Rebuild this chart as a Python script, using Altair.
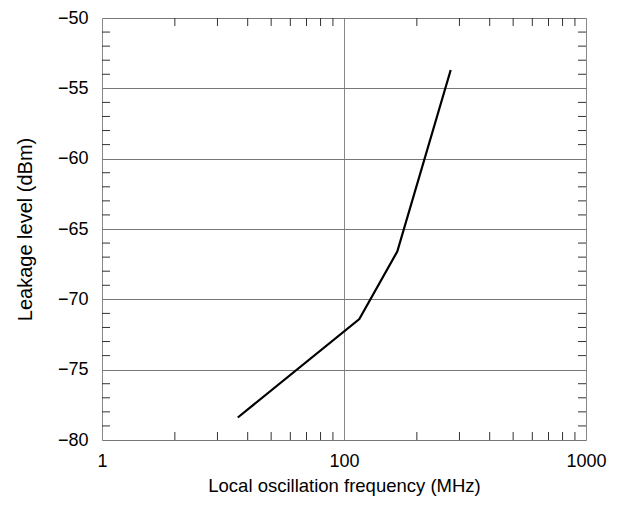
import altair as alt
import pandas as pd

# Data
freq = [36.4, 115.7, 166.0, 276.0]
level = [-78.4, -71.4, -66.6, -53.7]

x_ticks = [10, 100, 1000]
x_tick_labels = ["1", "100", "1000"]
y_ticks = [-80, -75, -70, -65, -60, -55, -50]
x_minor = [20, 30, 40, 50, 60, 70, 80, 90, 200, 300, 400, 500, 600, 700, 800, 900]
y_minor = [v for v in range(-79, -50) if v % 5 != 0]

W, H = 484, 422
FONT = "Liberation Sans"
LFS = 18

line_df = pd.DataFrame({"f": freq, "lvl": level})
xm_df = pd.DataFrame({"v": x_minor})
ym_df = pd.DataFrame({"v": y_minor})

xscale = alt.Scale(type="log", domain=[10, 1000], nice=False)
yscale = alt.Scale(domain=[-80, -50], nice=False, zero=False)

label_map = "{" + ",".join(f"'{v}':'{l}'" for v, l in zip(x_ticks, x_tick_labels)) + "}"

line = alt.Chart(line_df).mark_line(color="black", strokeWidth=2.2).encode(
    x=alt.X("f:Q", scale=xscale,
            axis=alt.Axis(values=x_ticks, labelExpr=f"{label_map}[datum.value + '']",
                          title="Local oscillation frequency (MHz)",
                          grid=True, gridColor="#888", gridWidth=1,
                          ticks=False, domain=False, labelPadding=12,
                          labelFlush=False,
                          labelFontSize=LFS, titleFontSize=18.5,
                          titleY=45, titleBaseline="middle",
                          labelFont=FONT, titleFont=FONT, labelColor="black",
                          titleColor="black", titleFontWeight="normal")),
    y=alt.Y("lvl:Q", scale=yscale,
            axis=alt.Axis(values=y_ticks, title="Leakage level (dBm)",
                          grid=True, gridColor="#777", gridWidth=1,
                          ticks=False, domain=False, labelPadding=14,
                          labelFlush=False,
                          labelFontSize=LFS, titleFontSize=20,
                          labelFont=FONT, titleFont=FONT, labelColor="black",
                          titleColor="black", titleFontWeight="normal",
                          titleX=-77, titleY=H / 2, titleBaseline="middle",
                          titleAngle=-90)),
)

tick_color = "#333"
xm_top = alt.Chart(xm_df).mark_rule(color=tick_color, strokeWidth=1).encode(
    x=alt.X("v:Q", scale=xscale), y=alt.value(0), y2=alt.value(8))
xm_bot = alt.Chart(xm_df).mark_rule(color=tick_color, strokeWidth=1).encode(
    x=alt.X("v:Q", scale=xscale), y=alt.value(H), y2=alt.value(H - 8))
ym_left = alt.Chart(ym_df).mark_rule(color=tick_color, strokeWidth=1).encode(
    y=alt.Y("v:Q", scale=yscale), x=alt.value(0), x2=alt.value(8))
ym_right = alt.Chart(ym_df).mark_rule(color=tick_color, strokeWidth=1).encode(
    y=alt.Y("v:Q", scale=yscale), x=alt.value(W), x2=alt.value(W - 8))

chart = alt.layer(xm_top, xm_bot, ym_left, ym_right, line).properties(
    width=W, height=H,
    autosize=alt.AutoSizeParams(type="none"),
    padding={"left": 94, "top": 10, "right": 30, "bottom": 70},
).configure_view(stroke="black", strokeWidth=3).configure(background="white")

chart.save("out.html", embed_options={"renderer": "svg", "actions": False})
